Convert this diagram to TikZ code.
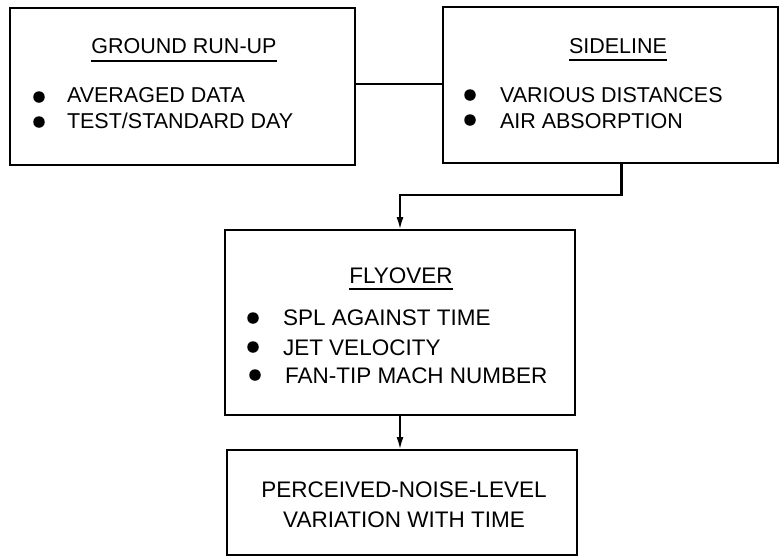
\documentclass[tikz,border=0pt]{standalone}
\usepackage{fontspec}
\setmainfont{Liberation Sans}
\usetikzlibrary{arrows.meta}
\begin{document}
\begin{tikzpicture}[x=1pt,y=-1pt,
  box/.style={draw,line width=2.2pt,inner sep=0pt,outer sep=0pt},
  txt/.style={inner sep=0pt,outer sep=0pt,font=\fontsize{21.5}{25}\selectfont},
  txtb/.style={inner sep=0pt,outer sep=0pt,font=\fontsize{22.5}{26}\selectfont},
  dot/.style={circle,fill=black,inner sep=0pt,minimum size=11.5pt},
  ul/.style={line width=2pt},
  conn/.style={line width=2.2pt},
  arr/.style={line width=2.2pt,-{Latex[length=13pt,width=7pt]}}]
\useasboundingbox (0,0) rectangle (781,558);
% boxes
\node[box,minimum width=345pt,minimum height=157pt] (g) at (182.5,86.5) {};
\node[box,minimum width=335pt,minimum height=156pt] (s) at (610.5,85) {};
\node[box,minimum width=350pt,minimum height=185pt] (f) at (400,322.5) {};
\node[box,minimum width=350pt,minimum height=105pt] (p) at (402,502.5) {};
% ground run-up
\node[txt,anchor=base] (gt) at (184,53) {GROUND RUN-UP};
\draw[ul] ([yshift=-8pt]gt.base west) -- ([yshift=-8pt]gt.base east);
\node[dot] (gd1) at (39,97) {};
\node[dot] (gd2) at (39,122) {};
\node[txt,anchor=base west] (g1) at (67,102) {AVERAGED DATA};
\node[txt,anchor=base west] (g2) at (67,128) {TEST/STANDARD DAY};
% sideline
\node[txt,anchor=base] (st) at (618,53) {SIDELINE};
\draw[ul] ([yshift=-7pt]st.base west) -- ([yshift=-7pt]st.base east);
\node[dot] (sd1) at (470,95) {};
\node[dot] (sd2) at (470,120) {};
\node[txt,anchor=base west] (s1) at (500,102) {VARIOUS DISTANCES};
\node[txt,anchor=base west] (s2) at (500,128) {AIR ABSORPTION};
% flyover
\node[txtb,anchor=base] (ft) at (401,283) {FLYOVER};
\draw[ul] ([yshift=-6pt]ft.base west) -- ([yshift=-6pt]ft.base east);
\node[dot] (fd1) at (253,318) {};
\node[dot] (fd2) at (253,347) {};
\node[dot] (fd3) at (255,375) {};
\node[txtb,anchor=base west] (f1) at (283,325) {SPL AGAINST TIME};
\node[txtb,anchor=base west] (f2) at (283,355) {JET VELOCITY};
\node[txtb,anchor=base west] (f3) at (285,383) {FAN-TIP MACH NUMBER};
% perceived
\node[txtb,anchor=base] (p1) at (404,497) {PERCEIVED-NOISE-LEVEL};
\node[txtb,anchor=base] (p2) at (404,527) {VARIATION WITH TIME};
% connectors
\draw[conn] (g.east |- 0,84) -- (s.west |- 0,84);
\draw[arr] ([xshift=11pt]s.south) -- ++(0,32) -| (f.north);
\draw[arr] (f.south) -- (f.south |- p.north);
\end{tikzpicture}
\end{document}
